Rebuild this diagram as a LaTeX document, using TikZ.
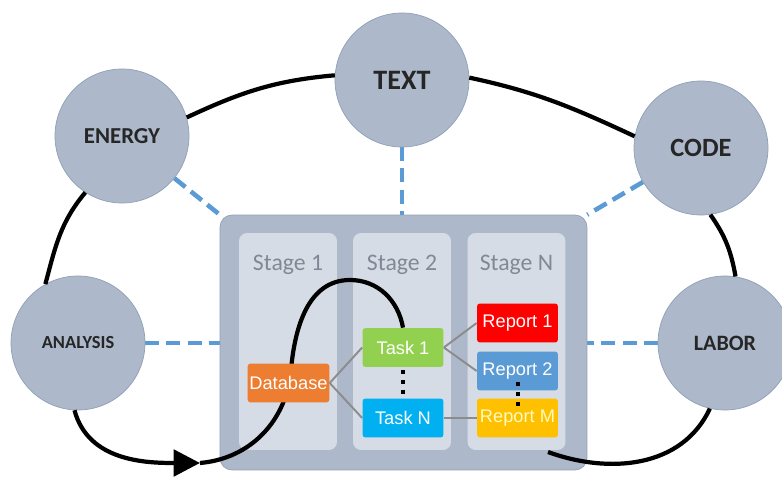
\documentclass[tikz,border=0pt]{standalone}
\usepackage{fontspec}
\setmainfont{Carlito}
\newfontfamily\arialfont{Liberation Sans}
\usetikzlibrary{arrows.meta}
\pgfdeclarelayer{back}
\pgfdeclarelayer{front}
\pgfsetlayers{back,main,front}

\definecolor{cercle}{HTML}{ADB9CA}
\definecolor{cerclebord}{HTML}{8FA0B6}
\definecolor{colonne}{HTML}{D6DCE5}
\definecolor{gristitre}{HTML}{7F8995}
\definecolor{bleutiret}{HTML}{5B9BD5}
\definecolor{grislien}{HTML}{8C8C8C}
\definecolor{blocorange}{HTML}{ED7D31}
\definecolor{blocvert}{HTML}{92D050}
\definecolor{bloccyan}{HTML}{00B0F0}
\definecolor{blocrouge}{HTML}{FF0000}
\definecolor{blocbleu}{HTML}{5B9BD5}
\definecolor{blocjaune}{HTML}{FFC000}

\begin{document}
\begin{tikzpicture}[x=0.02cm, y=0.02cm,
    acteur/.style={circle, draw=cerclebord, fill=cercle, minimum size=2.68cm, inner sep=0pt, text=black!85},
    etape/.style={rounded corners=0.16cm, fill=colonne, minimum width=1.96cm, minimum height=4.34cm},
    titre/.style={text=gristitre, font=\fontsize{13.5}{16}\selectfont},
    bloc/.style={rounded corners=0.06cm, minimum width=1.62cm, minimum height=0.78cm, inner sep=1pt, text=white, font=\arialfont\fontsize{10.4}{12}\selectfont},
    tirets/.style={draw=bleutiret, line width=2.6pt, dash pattern=on 8pt off 4pt},
    lien/.style={draw=grislien, line width=1.1pt},
    boucle/.style={draw=black, line width=2.4pt}]
    \useasboundingbox (0,0) rectangle (782,-479);

    % Cercles
    \node[acteur, font=\bfseries\fontsize{16}{18}\selectfont] (txt) at (402,-80) {TEXT};
    \node[acteur, font=\bfseries\fontsize{13}{15}\selectfont] (energy) at (122,-136) {ENERGY};
    \node[acteur, font=\bfseries\fontsize{15}{17}\selectfont] (code) at (701,-148) {CODE};
    \node[acteur, font=\bfseries\fontsize{10.5}{12}\selectfont] (analysis) at (78,-343) {ANALYSIS};
    \node[acteur, font=\bfseries\fontsize{12.5}{14}\selectfont] (labor) at (725,-343) {LABOR};

    % Boite centrale et colonnes
    \node[draw=cerclebord, fill=cercle, rounded corners=0.24cm, minimum width=7.34cm, minimum height=5.1cm] (pipeline) at (403.5,-342.5) {};
    \node[etape] (stage1) at (288,-341.5) {};
    \node[etape] (stage2) at (402,-341.5) {};
    \node[etape] (stageN) at (516.5,-341.5) {};
    \node[titre] (title1) at (288,-265) {Stage 1};
    \node[titre] (title2) at (402,-265) {Stage 2};
    \node[titre] (titleN) at (516.5,-265) {Stage N};

    % Blocs
    \begin{pgfonlayer}{front}
    \node[bloc, fill=blocorange] (database) at (288.5,-383) {Database};
    \node[bloc, fill=blocvert] (task1) at (403,-347.5) {Task 1};
    \node[bloc, fill=bloccyan] (taskN) at (403,-418) {Task N};
    \node[bloc, fill=blocrouge] (report1) at (517.5,-323) {Report 1};
    \node[bloc, fill=blocbleu] (report2) at (517.5,-371) {Report 2};
    \node[bloc, fill=blocjaune, text=yellow!25] (reportM) at (517.5,-418) {Report M};

    \draw[lien] (database.east) -- (task1.west);
    \draw[lien] (database.east) -- (taskN.west);
    \draw[lien] (task1.east) -- (report1.west);
    \draw[lien] (task1.east) -- (report2.west);
    \draw[lien] (taskN.east) -- (reportM.west);

    \foreach \y in {370,380,390} \fill (401,-\y) rectangle ++(4,-4);
    \foreach \y in {382,392,402} \fill (516,-\y) rectangle ++(4,-4);
    \end{pgfonlayer}

    % Boucle
    \coordinate (arrowtip) at (200,-463);
    \coordinate (loopend) at (548,-452);
    \draw[boucle] (energy.16) to[out=25, in=185] (txt.176);
    \draw[boucle] (txt.2) to[out=-12, in=155] (code.170);
    \draw[boucle] (code.-82) to[out=-55, in=100] (labor.81);
    \draw[boucle] (labor.-103) to[out=-115, in=-20] (loopend);
    \draw[boucle] (energy.-123) to[out=-130, in=75] (analysis.119);
    \draw[boucle, -{Triangle[length=15pt, width=15pt]}] (analysis.-93) to[out=-75, in=180] (arrowtip);
    \draw[boucle] (arrowtip) to[out=5, in=-95] (291,-370) to[out=85, in=180] (350,-280) to[out=0, in=100] (task1.north);

    % Tirets
    \begin{pgfonlayer}{back}
    \draw[tirets] (energy) -- (pipeline.north west);
    \draw[tirets] (txt) -- (txt |- pipeline.north);
    \draw[tirets] (code) -- (pipeline.north east);
    \draw[tirets] (analysis) -- (analysis -| pipeline.west);
    \draw[tirets] (labor) -- (labor -| pipeline.east);
    \end{pgfonlayer}
\end{tikzpicture}
\end{document}
